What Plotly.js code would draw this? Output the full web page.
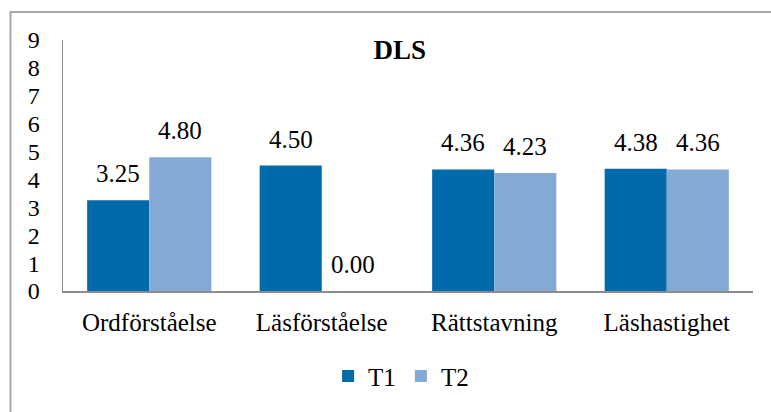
<!DOCTYPE html>
<html>
<head>
<meta charset="utf-8">
<script src="https://cdn.plot.ly/plotly-3.0.1.min.js"></script>
<style>
html,body{margin:0;padding:0;background:#fff;}
#chart{width:771px;height:412px;}
</style>
</head>
<body>
<div id="chart"></div>
<script>
const categories = ["Ordförståelse", "Läsförståelse", "Rättstavning", "Läshastighet"];
const t1Values = [3.25, 4.50, 4.36, 4.38];
const t2Values = [4.80, 0.00, 4.23, 4.36];
const seriesNames = ["T1", "T2"];
const yTicks = [0, 1, 2, 3, 4, 5, 6, 7, 8, 9];

const FONT = 'Liberation Serif, Times New Roman, serif';
const colors = ["#006AAA", "#84A9D4"];
const FS = 25;

const traces = [
  {type: 'bar', name: seriesNames[0], x: categories, y: t1Values, marker: {color: colors[0]}, hoverinfo: 'none'},
  {type: 'bar', name: seriesNames[1], x: categories, y: t2Values, marker: {color: colors[1]}, hoverinfo: 'none'}
];

const bargap = 0.28;
const plotW = 771 - 63 - 18;
const catW = plotW / categories.length;
const off = catW * (1 - bargap) / 4;

const annotations = [];
[t1Values, t2Values].forEach((vals, s) => {
  vals.forEach((v, i) => {
    annotations.push({
      x: categories[i], y: v, xref: 'x', yref: 'y',
      text: v.toFixed(2), showarrow: false,
      xanchor: 'center', yanchor: 'bottom',
      xshift: s === 0 ? -off : off, yshift: 11,
      font: {family: FONT, size: FS, color: '#000'}
    });
  });
});

const layout = {
  width: 771, height: 412,
  margin: {l: 63, r: 18, t: 40, b: 117},
  paper_bgcolor: '#fff', plot_bgcolor: '#fff',
  font: {family: FONT, size: FS, color: '#000'},
  title: {text: '<b>DLS</b>', x: 0.488, xref: 'paper', xanchor: 'center', y: 0.88, yref: 'container', yanchor: 'middle', font: {family: FONT, size: 27, color: '#000'}},
  barmode: 'group', bargap: bargap, bargroupgap: 0,
  showlegend: true,
  legend: {orientation: 'h', x: 0.49, xanchor: 'center', y: -0.34, yanchor: 'middle', font: {family: FONT, size: FS, color: '#000'}, itemwidth: 30},
  xaxis: {showline: true, linecolor: '#8c8c8c', linewidth: 1.5, ticks: '', ticklabelstandoff: 8, showgrid: false, zeroline: false, tickfont: {family: FONT, size: FS, color: '#000'}, fixedrange: true},
  yaxis: {range: [0, 9], tickvals: yTicks, ticktext: yTicks.map(String), showline: true, linecolor: '#8c8c8c', linewidth: 1.5, ticks: '', ticklabelstandoff: 17, showgrid: false, zeroline: false, tickfont: {family: FONT, size: 24, color: '#000'}, fixedrange: true},
  annotations: annotations,
  shapes: [{type: 'rect', xref: 'paper', yref: 'paper', x0: (10.5 - 63) / plotW, x1: 1.2, y0: -1, y1: 1 + (40 - 11.5) / 255, line: {color: '#a6a6a6', width: 2}, fillcolor: 'rgba(0,0,0,0)', layer: 'below'}]
};

Plotly.newPlot('chart', traces, layout, {displayModeBar: false, staticPlot: true});
</script>
</body>
</html>
